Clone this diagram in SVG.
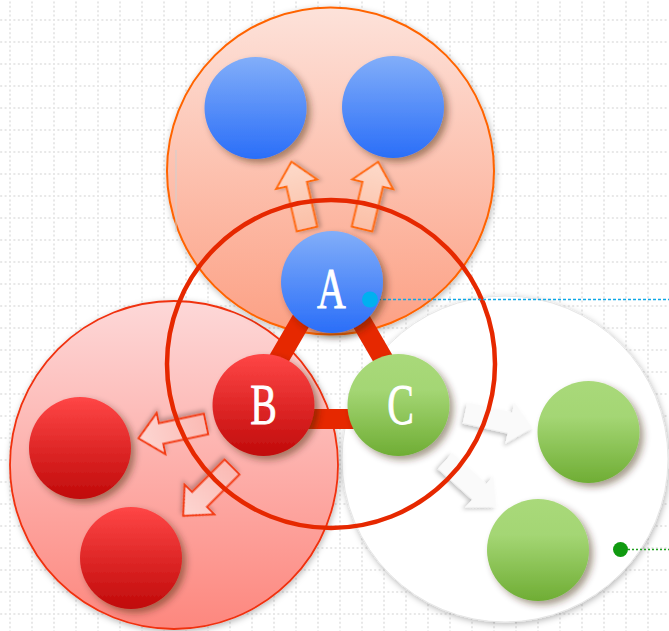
<svg xmlns="http://www.w3.org/2000/svg" xmlns:xlink="http://www.w3.org/1999/xlink" width="669" height="631" viewBox="0 0 669 631">
  <style>
    .grid-line { stroke: #e8e8e8; stroke-width: 2; stroke-dasharray: 2 2.4; fill: none; }
    .node-label { font-family: "Liberation Serif", "DejaVu Serif", serif; font-size: 57px; fill: #ffffff; stroke: #ffffff; stroke-width: 0.8; text-anchor: middle; }
    .bar { fill: none; stroke: #e62800; stroke-width: 20; stroke-linejoin: round; }
    .ring { fill: none; stroke: #e62800; stroke-width: 4.5; }
    .arrow-top { fill: url(#gArrowTop); stroke: #ff6a10; stroke-width: 2; stroke-linejoin: miter; filter: url(#fArrow); }
    .arrow-left { fill: url(#gArrowLeft); stroke: #f33c12; stroke-width: 2; stroke-linejoin: miter; filter: url(#fArrow); }
    .arrow-right { fill: #fafafa; stroke: none; filter: url(#fArrow); }
    .blue { fill: url(#gBlue); filter: url(#fNode); }
    .red { fill: url(#gRed); filter: url(#fNode); }
    .green { fill: url(#gGreen); filter: url(#fNode); }
  </style>
  <defs>
    <pattern id="grid" x="9" y="19" width="22" height="22" patternUnits="userSpaceOnUse">
      <path class="grid-line" d="M0 1 H22"/>
      <path class="grid-line" d="M1 0 V22"/>
    </pattern>
    <linearGradient id="gBlue" x1="0" y1="0" x2="0" y2="1">
      <stop offset="0" stop-color="#82aef9"/>
      <stop offset="1" stop-color="#2a6ef8"/>
    </linearGradient>
    <linearGradient id="gRed" x1="0" y1="0" x2="0" y2="1">
      <stop offset="0" stop-color="#ff4646"/>
      <stop offset="1" stop-color="#c00a0a"/>
    </linearGradient>
    <linearGradient id="gGreen" x1="0" y1="0" x2="0" y2="1">
      <stop offset="0" stop-color="#a9d97a"/>
      <stop offset="0.35" stop-color="#a4d674"/>
      <stop offset="1" stop-color="#6fad34"/>
    </linearGradient>
    <linearGradient id="gOrangeBig" x1="0" y1="0" x2="0" y2="1">
      <stop offset="0" stop-color="#fde2da"/>
      <stop offset="1" stop-color="#fca084"/>
    </linearGradient>
    <linearGradient id="gRedBig" x1="0" y1="0" x2="0" y2="1">
      <stop offset="0" stop-color="#fdd8d8"/>
      <stop offset="1" stop-color="#fd877e"/>
    </linearGradient>
    <linearGradient id="gArrowTop" x1="0" y1="0" x2="1" y2="0">
      <stop offset="0" stop-color="#fbbfa6"/>
      <stop offset="1" stop-color="#fddaca"/>
    </linearGradient>
    <linearGradient id="gArrowLeft" x1="0" y1="0" x2="1" y2="0">
      <stop offset="0" stop-color="#fbbab4"/>
      <stop offset="1" stop-color="#fdd6d2"/>
    </linearGradient>
    <filter id="fNode" x="-30%" y="-30%" width="170%" height="170%">
      <feDropShadow dx="4" dy="4" stdDeviation="3.5" flood-color="#3a2010" flood-opacity="0.45"/>
    </filter>
    <filter id="fBig" x="-10%" y="-10%" width="125%" height="125%">
      <feDropShadow dx="1" dy="2" stdDeviation="3" flood-color="#000000" flood-opacity="0.28"/>
    </filter>
    <filter id="fArrow" x="-30%" y="-50%" width="160%" height="200%">
      <feDropShadow dx="-1" dy="3" stdDeviation="2" flood-color="#000000" flood-opacity="0.25"/>
    </filter>
    <path id="arrowShape" d="M0,-10.5 H46 V-21 L69,0 L46,21 V10.5 H0 Z"/>
  </defs>

  <!-- background with dotted grid -->
  <rect width="669" height="631" fill="#ffffff"/>
  <rect width="669" height="631" fill="url(#grid)"/>

  <!-- group circles -->
  <g id="group-C">
    <circle cx="505" cy="459" r="163" fill="#ffffff" stroke="#e6e6e6" stroke-width="1" filter="url(#fBig)"/>
  </g>
  <g id="group-B">
    <circle cx="174" cy="465" r="164" fill="url(#gRedBig)" stroke="#f03010" stroke-width="1.8" filter="url(#fBig)"/>
  </g>
  <g id="group-A">
    <circle cx="330.5" cy="171" r="163.5" fill="url(#gOrangeBig)" stroke="#ff6400" stroke-width="2" filter="url(#fBig)"/>
    <line x1="176" y1="150" x2="176" y2="232" stroke="#cfcfcf" stroke-width="1"/>
  </g>

  <!-- child nodes -->
  <g id="A1"><circle class="blue" cx="255.5" cy="108" r="51"/></g>
  <g id="A2"><circle class="blue" cx="393" cy="107" r="51"/></g>
  <g id="B1"><circle class="red" cx="80" cy="448" r="51"/></g>
  <g id="B2"><circle class="red" cx="131" cy="558" r="51"/></g>
  <g id="C1"><circle class="green" cx="588.5" cy="432" r="51"/></g>
  <g id="C2"><circle class="green" cx="538" cy="550" r="51"/></g>

  <!-- connectors -->
  <g id="connectors">
    <use xlink:href="#arrowShape" class="arrow-top" transform="translate(307,229) rotate(-103)"/>
    <use xlink:href="#arrowShape" class="arrow-top" transform="translate(362,229) rotate(-76.5)"/>
    <use xlink:href="#arrowShape" class="arrow-left" transform="translate(206,424) rotate(168)"/>
    <use xlink:href="#arrowShape" class="arrow-left" transform="translate(232,467) rotate(135)"/>
    <use xlink:href="#arrowShape" class="arrow-right" transform="translate(465,413) rotate(12.5)"/>
    <use xlink:href="#arrowShape" class="arrow-right" transform="translate(445,461) rotate(42)"/>

    <circle class="ring" cx="331" cy="364" r="164"/>
    <polygon class="bar" points="331,269 244,419 418,419"/>

    <line x1="378" y1="299.5" x2="669" y2="299.5" stroke="#10a8e6" stroke-width="1.5" stroke-dasharray="3 2"/>
    <line x1="628" y1="549.5" x2="669" y2="549.5" stroke="#1fa01f" stroke-width="1.5" stroke-dasharray="2 2"/>
  </g>

  <!-- core nodes -->
  <g id="A">
    <circle class="blue" cx="332" cy="282" r="51"/>
    <text class="node-label" transform="translate(331.5,308) scale(0.7,1)">A</text>
  </g>
  <g id="B">
    <circle class="red" cx="263.5" cy="405" r="51"/>
    <text class="node-label" transform="translate(263.5,424) scale(0.7,1)">B</text>
  </g>
  <g id="C">
    <circle class="green" cx="398.5" cy="405" r="51"/>
    <text class="node-label" transform="translate(400.5,424) scale(0.7,1)">C</text>
  </g>

  <!-- marker dots -->
  <circle cx="370" cy="299.5" r="8" fill="#00b0f0"/>
  <circle cx="620.5" cy="549.5" r="7.5" fill="#109a10"/>
</svg>
